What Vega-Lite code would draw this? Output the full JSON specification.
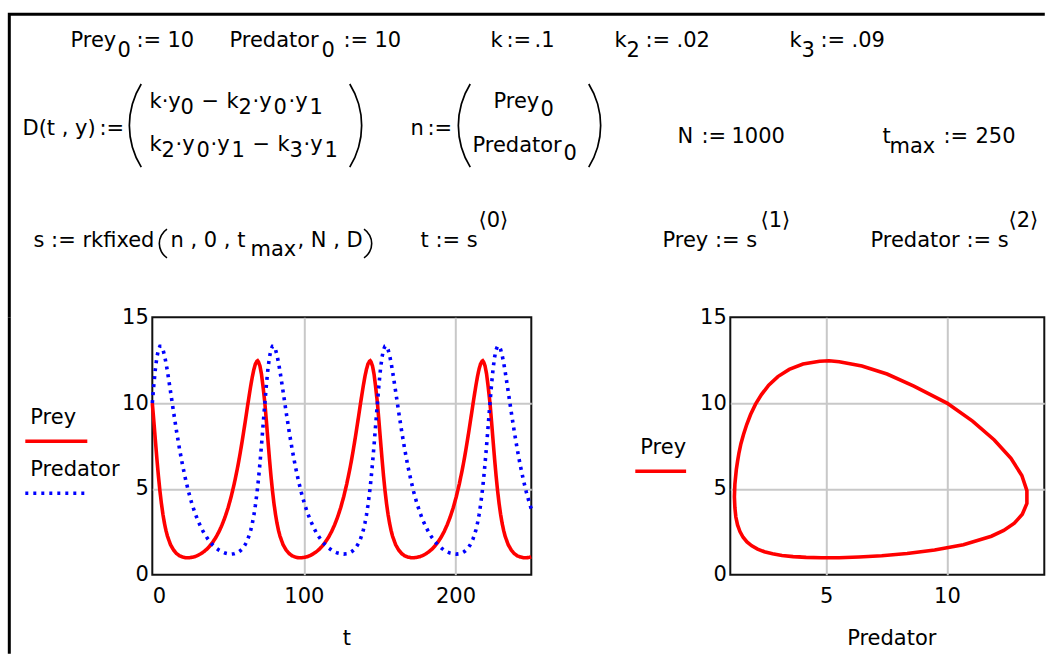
{
  "$schema": "https://vega.github.io/schema/vega-lite/v6.json",
  "background": "white",
  "padding": {"left": 7.3, "top": 12.2, "right": 0, "bottom": 0},
  "spacing": 0,
  "bounds": "flush",
  "datasets": {
    "sol": [
      {"t":0,"Prey":10,"Predator":10},{"t":1,"Prey":8.95,"Predator":11.06},{"t":2,"Prey":7.85,"Predator":11.96},{"t":3,"Prey":6.78,"Predator":12.65},{"t":4,"Prey":5.78,"Predator":13.1},{"t":5,"Prey":4.9,"Predator":13.31},{"t":6,"Prey":4.15,"Predator":13.31},{"t":7,"Prey":3.52,"Predator":13.12},{"t":8,"Prey":3,"Predator":12.79},{"t":9,"Prey":2.58,"Predator":12.35},{"t":10,"Prey":2.24,"Predator":11.84},{"t":12,"Prey":1.75,"Predator":10.68},{"t":14,"Prey":1.44,"Predator":9.49},{"t":16,"Prey":1.23,"Predator":8.35},{"t":18,"Prey":1.1,"Predator":7.3},{"t":20,"Prey":1.03,"Predator":6.36},{"t":22,"Prey":0.99,"Predator":5.53},{"t":24,"Prey":0.985,"Predator":4.8},{"t":26,"Prey":1.01,"Predator":4.17},{"t":28,"Prey":1.05,"Predator":3.63},{"t":30,"Prey":1.12,"Predator":3.17},{"t":32,"Prey":1.22,"Predator":2.78},{"t":34,"Prey":1.34,"Predator":2.44},{"t":36,"Prey":1.49,"Predator":2.16},{"t":38,"Prey":1.68,"Predator":1.92},{"t":40,"Prey":1.91,"Predator":1.72},{"t":42,"Prey":2.18,"Predator":1.56},{"t":44,"Prey":2.51,"Predator":1.43},{"t":46,"Prey":2.9,"Predator":1.33},{"t":48,"Prey":3.36,"Predator":1.26},{"t":50,"Prey":3.9,"Predator":1.22},{"t":52,"Prey":4.54,"Predator":1.2},{"t":54,"Prey":5.28,"Predator":1.22},{"t":56,"Prey":6.13,"Predator":1.28},{"t":57,"Prey":6.6,"Predator":1.33},{"t":58,"Prey":7.1,"Predator":1.39},{"t":59,"Prey":7.63,"Predator":1.47},{"t":60,"Prey":8.18,"Predator":1.58},{"t":61,"Prey":8.75,"Predator":1.71},{"t":62,"Prey":9.33,"Predator":1.87},{"t":63,"Prey":9.92,"Predator":2.07},{"t":64,"Prey":10.49,"Predator":2.32},{"t":65,"Prey":11.04,"Predator":2.62},{"t":66,"Prey":11.54,"Predator":3},{"t":67,"Prey":11.96,"Predator":3.47},{"t":68,"Prey":12.27,"Predator":4.04},{"t":69,"Prey":12.43,"Predator":4.73},{"t":69.5,"Prey":12.46,"Predator":5.12},{"t":70,"Prey":12.4,"Predator":5.54},{"t":71,"Prey":12.16,"Predator":6.48},{"t":72,"Prey":11.69,"Predator":7.52},{"t":73,"Prey":10.99,"Predator":8.63},
      {"t":74.25,"Prey":10,"Predator":10},{"t":75.25,"Prey":8.95,"Predator":11.06},{"t":76.25,"Prey":7.85,"Predator":11.96},{"t":77.25,"Prey":6.78,"Predator":12.65},{"t":78.25,"Prey":5.78,"Predator":13.1},{"t":79.25,"Prey":4.9,"Predator":13.31},{"t":80.25,"Prey":4.15,"Predator":13.31},{"t":81.25,"Prey":3.52,"Predator":13.12},{"t":82.25,"Prey":3,"Predator":12.79},{"t":83.25,"Prey":2.58,"Predator":12.35},{"t":84.25,"Prey":2.24,"Predator":11.84},{"t":86.25,"Prey":1.75,"Predator":10.68},{"t":88.25,"Prey":1.44,"Predator":9.49},{"t":90.25,"Prey":1.23,"Predator":8.35},{"t":92.25,"Prey":1.1,"Predator":7.3},{"t":94.25,"Prey":1.03,"Predator":6.36},{"t":96.25,"Prey":0.99,"Predator":5.53},{"t":98.25,"Prey":0.985,"Predator":4.8},{"t":100.25,"Prey":1.01,"Predator":4.17},{"t":102.25,"Prey":1.05,"Predator":3.63},{"t":104.25,"Prey":1.12,"Predator":3.17},{"t":106.25,"Prey":1.22,"Predator":2.78},{"t":108.25,"Prey":1.34,"Predator":2.44},{"t":110.25,"Prey":1.49,"Predator":2.16},{"t":112.25,"Prey":1.68,"Predator":1.92},{"t":114.25,"Prey":1.91,"Predator":1.72},{"t":116.25,"Prey":2.18,"Predator":1.56},{"t":118.25,"Prey":2.51,"Predator":1.43},{"t":120.25,"Prey":2.9,"Predator":1.33},{"t":122.25,"Prey":3.36,"Predator":1.26},{"t":124.25,"Prey":3.9,"Predator":1.22},{"t":126.25,"Prey":4.54,"Predator":1.2},{"t":128.25,"Prey":5.28,"Predator":1.22},{"t":130.25,"Prey":6.13,"Predator":1.28},{"t":131.25,"Prey":6.6,"Predator":1.33},{"t":132.25,"Prey":7.1,"Predator":1.39},{"t":133.25,"Prey":7.63,"Predator":1.47},{"t":134.25,"Prey":8.18,"Predator":1.58},{"t":135.25,"Prey":8.75,"Predator":1.71},{"t":136.25,"Prey":9.33,"Predator":1.87},{"t":137.25,"Prey":9.92,"Predator":2.07},{"t":138.25,"Prey":10.49,"Predator":2.32},{"t":139.25,"Prey":11.04,"Predator":2.62},{"t":140.25,"Prey":11.54,"Predator":3},{"t":141.25,"Prey":11.96,"Predator":3.47},{"t":142.25,"Prey":12.27,"Predator":4.04},{"t":143.25,"Prey":12.43,"Predator":4.73},{"t":143.75,"Prey":12.46,"Predator":5.12},{"t":144.25,"Prey":12.4,"Predator":5.54},{"t":145.25,"Prey":12.16,"Predator":6.48},{"t":146.25,"Prey":11.69,"Predator":7.52},{"t":147.25,"Prey":10.99,"Predator":8.63},
      {"t":148.5,"Prey":10,"Predator":10},{"t":149.5,"Prey":8.95,"Predator":11.06},{"t":150.5,"Prey":7.85,"Predator":11.96},{"t":151.5,"Prey":6.78,"Predator":12.65},{"t":152.5,"Prey":5.78,"Predator":13.1},{"t":153.5,"Prey":4.9,"Predator":13.31},{"t":154.5,"Prey":4.15,"Predator":13.31},{"t":155.5,"Prey":3.52,"Predator":13.12},{"t":156.5,"Prey":3,"Predator":12.79},{"t":157.5,"Prey":2.58,"Predator":12.35},{"t":158.5,"Prey":2.24,"Predator":11.84},{"t":160.5,"Prey":1.75,"Predator":10.68},{"t":162.5,"Prey":1.44,"Predator":9.49},{"t":164.5,"Prey":1.23,"Predator":8.35},{"t":166.5,"Prey":1.1,"Predator":7.3},{"t":168.5,"Prey":1.03,"Predator":6.36},{"t":170.5,"Prey":0.99,"Predator":5.53},{"t":172.5,"Prey":0.985,"Predator":4.8},{"t":174.5,"Prey":1.01,"Predator":4.17},{"t":176.5,"Prey":1.05,"Predator":3.63},{"t":178.5,"Prey":1.12,"Predator":3.17},{"t":180.5,"Prey":1.22,"Predator":2.78},{"t":182.5,"Prey":1.34,"Predator":2.44},{"t":184.5,"Prey":1.49,"Predator":2.16},{"t":186.5,"Prey":1.68,"Predator":1.92},{"t":188.5,"Prey":1.91,"Predator":1.72},{"t":190.5,"Prey":2.18,"Predator":1.56},{"t":192.5,"Prey":2.51,"Predator":1.43},{"t":194.5,"Prey":2.9,"Predator":1.33},{"t":196.5,"Prey":3.36,"Predator":1.26},{"t":198.5,"Prey":3.9,"Predator":1.22},{"t":200.5,"Prey":4.54,"Predator":1.2},{"t":202.5,"Prey":5.28,"Predator":1.22},{"t":204.5,"Prey":6.13,"Predator":1.28},{"t":205.5,"Prey":6.6,"Predator":1.33},{"t":206.5,"Prey":7.1,"Predator":1.39},{"t":207.5,"Prey":7.63,"Predator":1.47},{"t":208.5,"Prey":8.18,"Predator":1.58},{"t":209.5,"Prey":8.75,"Predator":1.71},{"t":210.5,"Prey":9.33,"Predator":1.87},{"t":211.5,"Prey":9.92,"Predator":2.07},{"t":212.5,"Prey":10.49,"Predator":2.32},{"t":213.5,"Prey":11.04,"Predator":2.62},{"t":214.5,"Prey":11.54,"Predator":3},{"t":215.5,"Prey":11.96,"Predator":3.47},{"t":216.5,"Prey":12.27,"Predator":4.04},{"t":217.5,"Prey":12.43,"Predator":4.73},{"t":218,"Prey":12.46,"Predator":5.12},{"t":218.5,"Prey":12.4,"Predator":5.54},{"t":219.5,"Prey":12.16,"Predator":6.48},{"t":220.5,"Prey":11.69,"Predator":7.52},{"t":221.5,"Prey":10.99,"Predator":8.63},
      {"t":222.75,"Prey":10,"Predator":10},{"t":223.75,"Prey":8.95,"Predator":11.06},{"t":224.75,"Prey":7.85,"Predator":11.96},{"t":225.75,"Prey":6.78,"Predator":12.65},{"t":226.75,"Prey":5.78,"Predator":13.1},{"t":227.75,"Prey":4.9,"Predator":13.31},{"t":228.75,"Prey":4.15,"Predator":13.31},{"t":229.75,"Prey":3.52,"Predator":13.12},{"t":230.75,"Prey":3,"Predator":12.79},{"t":231.75,"Prey":2.58,"Predator":12.35},{"t":232.75,"Prey":2.24,"Predator":11.84},{"t":234.75,"Prey":1.75,"Predator":10.68},{"t":236.75,"Prey":1.44,"Predator":9.49},{"t":238.75,"Prey":1.23,"Predator":8.35},{"t":240.75,"Prey":1.1,"Predator":7.3},{"t":242.75,"Prey":1.03,"Predator":6.36},{"t":244.75,"Prey":0.99,"Predator":5.53},{"t":246.75,"Prey":0.985,"Predator":4.8},{"t":248.75,"Prey":1.01,"Predator":4.17},{"t":250,"Prey":1.035,"Predator":3.83}
    ],
    "formula": [
      {"x":70,"y":46.5,"s":"Prey"},{"x":117,"y":56.5,"s":"0"},{"x":136,"y":46.5,"s":":="},{"x":167,"y":46.5,"s":"10"},
      {"x":229,"y":46.5,"s":"Predator"},{"x":321,"y":56.5,"s":"0"},{"x":343,"y":46.5,"s":":="},{"x":374,"y":46.5,"s":"10"},
      {"x":490,"y":46.5,"s":"k"},{"x":506,"y":46.5,"s":":="},{"x":534,"y":46.5,"s":".1"},
      {"x":614,"y":46.5,"s":"k"},{"x":626,"y":56.5,"s":"2"},{"x":645,"y":46.5,"s":":="},{"x":676,"y":46.5,"s":".02"},
      {"x":789,"y":46.5,"s":"k"},{"x":801,"y":56.5,"s":"3"},{"x":820,"y":46.5,"s":":="},{"x":851,"y":46.5,"s":".09"},
      {"x":22,"y":135,"s":"D(t , y)"},{"x":99,"y":135,"s":":="},
      {"x":149,"y":108,"s":"k·y"},{"x":180,"y":114,"s":"0"},{"x":201,"y":108,"s":"−"},{"x":226,"y":108,"s":"k"},{"x":238,"y":114,"s":"2"},{"x":252,"y":108,"s":"·y"},{"x":273,"y":114,"s":"0"},{"x":288,"y":108,"s":"·y"},{"x":309,"y":114,"s":"1"},
      {"x":149,"y":151,"s":"k"},{"x":161,"y":157,"s":"2"},{"x":175,"y":151,"s":"·y"},{"x":196,"y":157,"s":"0"},{"x":210,"y":151,"s":"·y"},{"x":231,"y":157,"s":"1"},{"x":252,"y":151,"s":"−"},{"x":277,"y":151,"s":"k"},{"x":289,"y":157,"s":"3"},{"x":303,"y":151,"s":"·y"},{"x":324,"y":157,"s":"1"},
      {"x":410,"y":135,"s":"n"},{"x":427,"y":135,"s":":="},{"x":493,"y":108,"s":"Prey"},{"x":540,"y":116,"s":"0"},{"x":472,"y":152,"s":"Predator"},{"x":563,"y":160,"s":"0"},
      {"x":677,"y":143,"s":"N"},{"x":701,"y":143,"s":":="},{"x":731,"y":143,"s":"1000"},
      {"x":882,"y":143,"s":"t"},{"x":889,"y":153,"s":"max"},{"x":943,"y":143,"s":":="},{"x":975,"y":143,"s":"250"},
      {"x":33,"y":247,"s":"s := rkfixed"},{"x":170,"y":247,"s":"n , 0 , t"},{"x":250,"y":256,"s":"max"},{"x":297,"y":247,"s":", N , D"},
      {"x":420,"y":247,"s":"t := s"},{"x":478,"y":227,"s":"⟨0⟩"},
      {"x":662,"y":247,"s":"Prey := s"},{"x":760,"y":227,"s":"⟨1⟩"},
      {"x":870,"y":247,"s":"Predator := s"},{"x":1008,"y":227,"s":"⟨2⟩"}
    ],
    "paren": [
      {"cx":207.5,"cy":125,"side":"L","size":"big"},{"cx":282.5,"cy":125,"side":"R","size":"big"},
      {"cx":536.5,"cy":125,"side":"L","size":"big"},{"cx":521.5,"cy":125,"side":"R","size":"big"},
      {"cx":176,"cy":243,"side":"L","size":"small"},{"cx":354,"cy":243,"side":"R","size":"small"}
    ]
  },
  "vconcat": [
    {
      "width": 1035.5,
      "height": 303,
      "view": {"stroke": "#000", "strokeWidth": 3, "strokeDash": [1035.5, 1338.5]},
      "layer": [
        {
          "data": {"name": "formula"},
          "mark": {"type": "text", "font": "DejaVu Sans", "fontSize": 21, "align": "left", "baseline": "alphabetic", "color": "#000"},
          "encoding": {
            "x": {"field": "x", "type": "quantitative", "scale": {"domain": [8.8, 1044.3], "nice": false, "zero": false}, "axis": null},
            "y": {"field": "y", "type": "quantitative", "scale": {"domain": [13.7, 316.7], "nice": false, "zero": false, "reverse": true}, "axis": null},
            "text": {"field": "s"}
          }
        },
        {
          "data": {"name": "paren"},
          "transform": [{"filter": "datum.side == 'L' && datum.size == 'big'"}],
          "mark": {"type": "arc", "radius": 79.5, "radius2": 77.8, "theta": 4.155, "theta2": 5.269, "color": "#000"},
          "encoding": {
            "x": {"field": "cx", "type": "quantitative", "scale": {"domain": [8.8, 1044.3], "nice": false, "zero": false}, "axis": null},
            "y": {"field": "cy", "type": "quantitative", "scale": {"domain": [13.7, 316.7], "nice": false, "zero": false, "reverse": true}, "axis": null}
          }
        },
        {
          "data": {"name": "paren"},
          "transform": [{"filter": "datum.side == 'R' && datum.size == 'big'"}],
          "mark": {"type": "arc", "radius": 79.5, "radius2": 77.8, "theta": 1.014, "theta2": 2.128, "color": "#000"},
          "encoding": {
            "x": {"field": "cx", "type": "quantitative", "scale": {"domain": [8.8, 1044.3], "nice": false, "zero": false}, "axis": null},
            "y": {"field": "cy", "type": "quantitative", "scale": {"domain": [13.7, 316.7], "nice": false, "zero": false, "reverse": true}, "axis": null}
          }
        },
        {
          "data": {"name": "paren"},
          "transform": [{"filter": "datum.side == 'L' && datum.size == 'small'"}],
          "mark": {"type": "arc", "radius": 18, "radius2": 16.4, "theta": 3.727, "theta2": 5.697, "color": "#000"},
          "encoding": {
            "x": {"field": "cx", "type": "quantitative", "scale": {"domain": [8.8, 1044.3], "nice": false, "zero": false}, "axis": null},
            "y": {"field": "cy", "type": "quantitative", "scale": {"domain": [13.7, 316.7], "nice": false, "zero": false, "reverse": true}, "axis": null}
          }
        },
        {
          "data": {"name": "paren"},
          "transform": [{"filter": "datum.side == 'R' && datum.size == 'small'"}],
          "mark": {"type": "arc", "radius": 18, "radius2": 16.4, "theta": 0.586, "theta2": 2.556, "color": "#000"},
          "encoding": {
            "x": {"field": "cx", "type": "quantitative", "scale": {"domain": [8.8, 1044.3], "nice": false, "zero": false}, "axis": null},
            "y": {"field": "cy", "type": "quantitative", "scale": {"domain": [13.7, 316.7], "nice": false, "zero": false, "reverse": true}, "axis": null}
          }
        }
      ]
    },
    {
      "spacing": 0,
      "bounds": "flush",
      "resolve": {"scale": {"color": "independent", "strokeDash": "independent"}, "legend": {"color": "independent", "strokeDash": "independent"}},
      "hconcat": [
        {
          "width": 142.2,
          "height": 336.5,
          "view": {"stroke": "#000", "strokeWidth": 3, "strokeDash": [0, 620.9, 336.5, 10]},
          "data": {"values": []},
          "mark": {"type": "rule"},
          "encoding": {}
        },
        {
          "width": 379,
          "height": 257.5,
          "view": {"stroke": "#111", "strokeWidth": 2},
          "data": {"name": "sol"},
          "transform": [{"fold": ["Prey", "Predator"], "as": ["series", "value"]}],
          "mark": {"type": "line", "strokeWidth": 3.6, "strokeCap": "butt"},
          "encoding": {
            "x": {"field": "t", "type": "quantitative", "scale": {"domain": [0, 250], "nice": false, "zero": false},
                  "axis": {"values": [0, 100, 200], "title": "t", "labelPadding": 11, "labelDx": 3, "titleY": 70, "titleX": 194, "titleBaseline": "alphabetic",
                           "gridOpacity": {"condition": {"test": "datum.value == 0", "value": 0}, "value": 1}}},
            "y": {"field": "value", "type": "quantitative", "scale": {"domain": [0, 15], "nice": false},
                  "axis": {"values": [0, 5, 10, 15], "title": null, "labelPadding": 4,
                           "gridOpacity": {"condition": {"test": "datum.value == 0 || datum.value == 15", "value": 0}, "value": 1}}},
            "color": {"field": "series", "type": "nominal", "scale": {"domain": ["Prey", "Predator"], "range": ["#ff0000", "#0000ff"]},
                      "legend": {"orient": "none", "legendX": -129, "legendY": 104, "title": null, "symbolType": "stroke", "symbolSize": 3844, "symbolStrokeWidth": 3.4, "clipHeight": 40, "rowPadding": -2, "labelOffset": -59, "labelBaseline": "alphabetic", "padding": 0, "encoding": {"labels": {"dy": {"value": -17}}}}},
            "strokeDash": {"field": "series", "type": "nominal", "scale": {"domain": ["Prey", "Predator"], "range": [[1, 0], [3, 5]]},
                      "legend": {"orient": "none", "legendX": -129, "legendY": 104, "title": null, "symbolType": "stroke", "symbolSize": 3844, "symbolStrokeWidth": 3.4, "clipHeight": 40, "rowPadding": -2, "labelOffset": -59, "labelBaseline": "alphabetic", "padding": 0, "encoding": {"labels": {"dy": {"value": -17}}}}},
            "order": {"field": "t", "type": "quantitative"}
          }
        },
        {
          "width": 199,
          "height": 257.5,
          "view": {"stroke": null},
          "data": {"values": []},
          "mark": {"type": "rule"},
          "encoding": {}
        },
        {
          "width": 314,
          "height": 257.5,
          "view": {"stroke": "#111", "strokeWidth": 2},
          "data": {"name": "sol"},
          "mark": {"type": "line", "strokeWidth": 3.6},
          "encoding": {
            "x": {"field": "Predator", "type": "quantitative", "scale": {"domain": [1.03, 14.03], "nice": false, "zero": false},
                  "axis": {"values": [5, 10], "title": "Predator", "labelPadding": 11, "labelDx": 3, "titleY": 70, "titleX": 161, "titleBaseline": "alphabetic"}},
            "y": {"field": "Prey", "type": "quantitative", "scale": {"domain": [0, 15], "nice": false},
                  "axis": {"values": [0, 5, 10, 15], "title": null, "labelPadding": 4,
                           "gridOpacity": {"condition": {"test": "datum.value == 0 || datum.value == 15", "value": 0}, "value": 1}}},
            "color": {"datum": "Prey", "type": "nominal", "scale": {"domain": ["Prey"], "range": ["#ff0000"]},
                      "legend": {"orient": "none", "legendX": -97, "legendY": 134, "title": null, "symbolType": "stroke", "symbolSize": 3844, "symbolStrokeWidth": 3.4, "clipHeight": 40, "labelOffset": -59, "labelBaseline": "alphabetic", "padding": 0, "encoding": {"labels": {"dy": {"value": -17}}}}},
            "order": {"field": "t", "type": "quantitative"}
          }
        }
      ]
    }
  ],
  "config": {
    "font": "DejaVu Sans",
    "view": {"stroke": null},
    "axis": {"labelFont": "DejaVu Sans", "labelFontSize": 21, "labelColor": "#000", "titleFont": "DejaVu Sans", "titleFontSize": 21, "titleFontWeight": "normal", "titleColor": "#000",
             "ticks": false, "tickSize": 0, "domain": false, "gridColor": "#c8c8c8", "gridWidth": 2},
    "legend": {"labelFont": "DejaVu Sans", "labelFontSize": 21, "labelColor": "#000", "padding": 0, "offset": 0}
  }
}
